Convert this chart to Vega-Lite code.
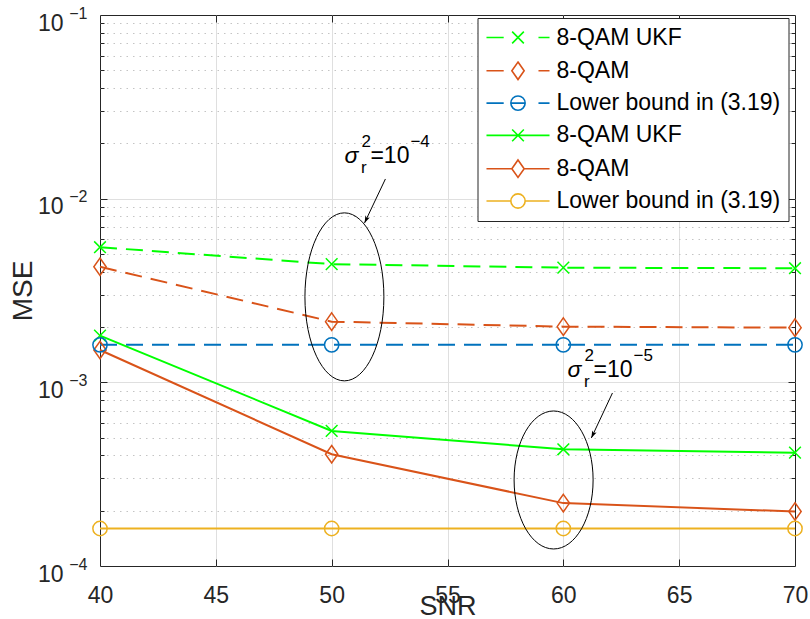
{
  "$schema": "https://vega.github.io/schema/vega-lite/v6.json",
  "width": 695,
  "height": 551,
  "autosize": "none",
  "padding": {"left": 100, "top": 15, "right": 15, "bottom": 53},
  "background": "#ffffff",
  "config": {
    "view": {"stroke": "#262626", "strokeWidth": 1},
    "font": "Liberation Sans",
    "axis": {"domain": false, "labelFont": "Liberation Sans", "titleFont": "Liberation Sans", "labelColor": "#262626", "titleColor": "#262626", "tickColor": "#262626", "titleFontWeight": "normal", "labelOverlap": false, "labelFlush": false, "labelBound": false},
    "legend": {
      "orient": "none", "legendX": 377.5, "legendY": 3, "title": null,
      "symbolSize": 169, "symbolOffset": 21, "labelOffset": 27, "symbolStrokeWidth": 1.6, "symbolOpacity": 1,
      "labelFontSize": 23, "labelFont": "Liberation Sans", "labelColor": "#000000", "labelLimit": 400,
      "rowPadding": 8.3, "padding": 8, "fillColor": "#ffffff", "strokeColor": "#262626"
    }
  },
  "datasets": {
    "main": [
      {"snr": 40, "mse": 0.00544, "s": "d_ukf"},
      {"snr": 50, "mse": 0.00440, "s": "d_ukf"},
      {"snr": 60, "mse": 0.00421, "s": "d_ukf"},
      {"snr": 70, "mse": 0.00418, "s": "d_ukf"},
      {"snr": 40, "mse": 0.00426, "s": "d_qam"},
      {"snr": 50, "mse": 0.00214, "s": "d_qam"},
      {"snr": 60, "mse": 0.00201, "s": "d_qam"},
      {"snr": 70, "mse": 0.001985, "s": "d_qam"},
      {"snr": 40, "mse": 0.0016, "s": "d_lb"},
      {"snr": 50, "mse": 0.0016, "s": "d_lb"},
      {"snr": 60, "mse": 0.0016, "s": "d_lb"},
      {"snr": 70, "mse": 0.0016, "s": "d_lb"},
      {"snr": 40, "mse": 0.001795, "s": "s_ukf"},
      {"snr": 50, "mse": 0.000544, "s": "s_ukf"},
      {"snr": 60, "mse": 0.000432, "s": "s_ukf"},
      {"snr": 70, "mse": 0.000414, "s": "s_ukf"},
      {"snr": 40, "mse": 0.0015, "s": "s_qam"},
      {"snr": 50, "mse": 0.000406, "s": "s_qam"},
      {"snr": 60, "mse": 0.00022, "s": "s_qam"},
      {"snr": 70, "mse": 0.000198, "s": "s_qam"},
      {"snr": 40, "mse": 0.00016, "s": "s_lb"},
      {"snr": 50, "mse": 0.00016, "s": "s_lb"},
      {"snr": 60, "mse": 0.00016, "s": "s_lb"},
      {"snr": 70, "mse": 0.00016, "s": "s_lb"}
    ],
    "ell": [
      {"snr": 50.55, "mse": 0.00292, "id": "a"},
      {"snr": 59.58, "mse": 0.000294, "id": "b"}
    ],
    "arr": [
      {"snr": 52.32, "mse": 0.0128, "snr2": 51.42, "mse2": 0.00738},
      {"snr": 62.12, "mse": 0.000875, "snr2": 61.21, "mse2": 0.000498}
    ],
    "ann": [
      {"snr": 50.55, "mse": 0.01564, "sym": "σ", "sup": "2", "sub": "r", "base": "=10", "exp": "−4"},
      {"snr": 60.18, "mse": 0.00107, "sym": "σ", "sup": "2", "sub": "r", "base": "=10", "exp": "−5"}
    ]
  },
  "resolve": {"axis": {"x": "independent", "y": "independent"}, "scale": {"x": "shared", "y": "shared"}},
  "layer": [
    {
      "data": {"name": "main"},
      "transform": [{"filter": "datum.s === 'd_ukf'"}],
      "mark": {"type": "line", "strokeWidth": 2, "strokeDash": [17, 9], "color": "#00ff00"},
      "encoding": {
        "x": {"field": "snr", "type": "quantitative", "scale": {"domain": [40, 70], "nice": false, "zero": false},
          "axis": {"orient": "bottom", "values": [40, 45, 50, 55, 60, 65, 70], "grid": false, "ticks": false, "labelFontSize": 23, "labelPadding": 36, "labelBaseline": "alphabetic", "title": "SNR", "titleFontSize": 27, "titleY": 48, "titleBaseline": "alphabetic"}},
        "y": {"field": "mse", "type": "quantitative", "scale": {"type": "log", "domain": [0.0001, 0.1], "nice": false},
          "axis": {"orient": "left", "values": [0.0001, 0.001, 0.01, 0.1], "labelExpr": "'10'", "grid": false, "ticks": false, "labelFontSize": 23, "labelPadding": 37, "labelBaseline": "alphabetic", "labelOffset": 15, "title": "MSE", "titleFontSize": 28, "titleX": -68.5, "titleBaseline": "alphabetic"}}
      }
    },
    {
      "data": {"name": "main"},
      "transform": [{"filter": "datum.s === 'd_qam'"}],
      "mark": {"type": "line", "strokeWidth": 2, "strokeDash": [17, 9], "color": "#d95319"},
      "encoding": {
        "x": {"field": "snr", "type": "quantitative",
          "axis": {"orient": "bottom", "values": [45, 50, 55, 60, 65], "grid": true, "gridColor": "#dfdfdf", "gridWidth": 1, "ticks": true, "tickSize": -7, "labels": false, "title": null}},
        "y": {"field": "mse", "type": "quantitative",
          "axis": {"orient": "left", "values": [0.0001, 0.001, 0.01, 0.1], "labelExpr": "'−' + round(-log(datum.value)/LN10)", "grid": false, "ticks": false, "labelFontSize": 16, "labelPadding": 13, "labelBaseline": "alphabetic", "labelOffset": 3, "title": null}}
      }
    },
    {
      "data": {"name": "main"},
      "transform": [{"filter": "datum.s === 'd_lb'"}],
      "mark": {"type": "line", "strokeWidth": 2, "strokeDash": [17, 9], "color": "#0072bd"},
      "encoding": {
        "x": {"field": "snr", "type": "quantitative",
          "axis": {"orient": "top", "values": [45, 50, 55, 60, 65], "grid": false, "ticks": true, "tickSize": -7, "labels": false, "title": null}},
        "y": {"field": "mse", "type": "quantitative",
          "axis": {"orient": "left", "values": [0.001, 0.01], "grid": true, "gridColor": "#dfdfdf", "ticks": true, "tickSize": -7, "labels": false, "title": null}}
      }
    },
    {
      "data": {"name": "main"},
      "transform": [{"filter": "datum.s === 's_ukf'"}],
      "mark": {"type": "line", "strokeWidth": 2, "color": "#00ff00"},
      "encoding": {
        "x": {"field": "snr", "type": "quantitative", "axis": null},
        "y": {"field": "mse", "type": "quantitative",
          "axis": {"orient": "left", "values": [0.0002, 0.0003, 0.0004, 0.0005, 0.0006, 0.0007, 0.0008, 0.0009, 0.002, 0.003, 0.004, 0.005, 0.006, 0.007, 0.008, 0.009, 0.02, 0.03, 0.04, 0.05, 0.06, 0.07, 0.08, 0.09], "grid": true, "gridColor": "#c4c4c4", "gridDash": [1.5, 5], "ticks": true, "tickSize": -4, "labels": false, "title": null}}
      }
    },
    {
      "data": {"name": "main"},
      "transform": [{"filter": "datum.s === 's_qam'"}],
      "mark": {"type": "line", "strokeWidth": 2, "color": "#d95319"},
      "encoding": {
        "x": {"field": "snr", "type": "quantitative", "axis": null},
        "y": {"field": "mse", "type": "quantitative",
          "axis": {"orient": "right", "values": [0.001, 0.01], "grid": false, "ticks": true, "tickSize": -7, "labels": false, "title": null}}
      }
    },
    {
      "data": {"name": "main"},
      "transform": [{"filter": "datum.s === 's_lb'"}],
      "mark": {"type": "line", "strokeWidth": 2, "color": "#edb120"},
      "encoding": {
        "x": {"field": "snr", "type": "quantitative", "axis": null},
        "y": {"field": "mse", "type": "quantitative",
          "axis": {"orient": "right", "values": [0.0002, 0.0003, 0.0004, 0.0005, 0.0006, 0.0007, 0.0008, 0.0009, 0.002, 0.003, 0.004, 0.005, 0.006, 0.007, 0.008, 0.009, 0.02, 0.03, 0.04, 0.05, 0.06, 0.07, 0.08, 0.09], "grid": false, "ticks": true, "tickSize": -4, "labels": false, "title": null}}
      }
    },
    {
      "data": {"name": "main"},
      "transform": [{"filter": "datum.s === 'd_ukf' || datum.s === 's_ukf'"}],
      "mark": {"type": "point", "filled": false, "strokeWidth": 1.5, "size": 169, "opacity": 1, "color": "#00ff00", "shape": "M-0.9,-0.9L0.9,0.9M-0.9,0.9L0.9,-0.9"},
      "encoding": {
        "x": {"field": "snr", "type": "quantitative", "axis": null},
        "y": {"field": "mse", "type": "quantitative", "axis": null}
      }
    },
    {
      "data": {"name": "main"},
      "transform": [{"filter": "datum.s === 'd_qam' || datum.s === 's_qam'"}],
      "mark": {"type": "point", "filled": false, "strokeWidth": 1.5, "size": 169, "opacity": 1, "color": "#d95319", "shape": "M0,-1.35L0.95,0L0,1.35L-0.95,0Z"},
      "encoding": {
        "x": {"field": "snr", "type": "quantitative", "axis": null},
        "y": {"field": "mse", "type": "quantitative", "axis": null}
      }
    },
    {
      "data": {"name": "main"},
      "transform": [{"filter": "datum.s === 'd_lb'"}],
      "mark": {"type": "point", "filled": false, "strokeWidth": 1.5, "size": 169, "opacity": 1, "color": "#0072bd", "shape": "M-1.1,0A1.1,1.1 0 1,0 1.1,0A1.1,1.1 0 1,0 -1.1,0Z"},
      "encoding": {
        "x": {"field": "snr", "type": "quantitative", "axis": null},
        "y": {"field": "mse", "type": "quantitative", "axis": null}
      }
    },
    {
      "data": {"name": "main"},
      "transform": [{"filter": "datum.s === 's_lb'"}],
      "mark": {"type": "point", "filled": false, "strokeWidth": 1.5, "size": 169, "opacity": 1, "color": "#edb120", "shape": "M-1.1,0A1.1,1.1 0 1,0 1.1,0A1.1,1.1 0 1,0 -1.1,0Z"},
      "encoding": {
        "x": {"field": "snr", "type": "quantitative", "axis": null},
        "y": {"field": "mse", "type": "quantitative", "axis": null}
      }
    },
    {
      "data": {"name": "main"},
      "mark": {"type": "point", "filled": false, "strokeWidth": 1.6, "size": 169, "opacity": 0},
      "encoding": {
        "x": {"field": "snr", "type": "quantitative", "axis": null},
        "y": {"field": "mse", "type": "quantitative", "axis": null},
        "color": {"field": "s", "type": "nominal",
          "scale": {"domain": ["d_ukf", "d_qam", "d_lb", "s_ukf", "s_qam", "s_lb"], "range": ["#00ff00", "#d95319", "#0072bd", "#00ff00", "#d95319", "#edb120"]},
          "legend": {"labelExpr": "(datum.value === 'd_ukf' || datum.value === 's_ukf') ? '8-QAM UKF' : ((datum.value === 'd_qam' || datum.value === 's_qam') ? '8-QAM' : 'Lower bound in (3.19)')"}},
        "shape": {"field": "s", "type": "nominal",
          "scale": {"domain": ["d_ukf", "d_qam", "d_lb", "s_ukf", "s_qam", "s_lb"],
            "range": [
              "M-4.85,0L-2.2,0M3.15,0L4.85,0M-0.9,-0.9L0.9,0.9M-0.9,0.9L0.9,-0.9",
              "M-4.85,0L-2.2,0M3.15,0L4.85,0M0,-1.35L0.95,0L0,1.35L-0.95,0Z",
              "M-4.85,0L-2.2,0M3.15,0L4.85,0M-1.05,0L1.05,0M-1.1,0A1.1,1.1 0 1,0 1.1,0A1.1,1.1 0 1,0 -1.1,0Z",
              "M-4.85,0L4.85,0M-0.9,-0.9L0.9,0.9M-0.9,0.9L0.9,-0.9",
              "M-4.85,0L-0.95,0M0.95,0L4.85,0M0,-1.35L0.95,0L0,1.35L-0.95,0Z",
              "M-4.85,0L-1.1,0M1.1,0L4.85,0M-1.1,0A1.1,1.1 0 1,0 1.1,0A1.1,1.1 0 1,0 -1.1,0Z"
            ]},
          "legend": {"labelExpr": "(datum.value === 'd_ukf' || datum.value === 's_ukf') ? '8-QAM UKF' : ((datum.value === 'd_qam' || datum.value === 's_qam') ? '8-QAM' : 'Lower bound in (3.19)')"}}
      }
    },
    {
      "data": {"name": "ell"},
      "transform": [{"filter": "datum.id === 'a'"}],
      "mark": {"type": "point", "filled": false, "color": "#000000", "strokeWidth": 1, "size": 28224, "shape": "M0,-1A0.47,1 0 1,1 0,1A0.47,1 0 1,1 0,-1Z", "opacity": 1},
      "encoding": {
        "x": {"field": "snr", "type": "quantitative", "axis": null},
        "y": {"field": "mse", "type": "quantitative", "axis": null}
      }
    },
    {
      "data": {"name": "ell"},
      "transform": [{"filter": "datum.id === 'b'"}],
      "mark": {"type": "point", "filled": false, "color": "#000000", "strokeWidth": 1, "size": 19044, "shape": "M0,-1A0.5725,1 0 1,1 0,1A0.5725,1 0 1,1 0,-1Z", "opacity": 1},
      "encoding": {
        "x": {"field": "snr", "type": "quantitative", "axis": null},
        "y": {"field": "mse", "type": "quantitative", "axis": null}
      }
    },
    {
      "data": {"name": "arr"},
      "mark": {"type": "rule", "color": "#000000", "strokeWidth": 1},
      "encoding": {
        "x": {"field": "snr", "type": "quantitative", "axis": null},
        "y": {"field": "mse", "type": "quantitative", "axis": null},
        "x2": {"field": "snr2"},
        "y2": {"field": "mse2"}
      }
    },
    {
      "data": {"name": "arr"},
      "mark": {"type": "point", "filled": true, "color": "#000000", "size": 36, "angle": 205, "shape": "M0,0L0.8,2.4L0,1.8L-0.8,2.4Z", "opacity": 1},
      "encoding": {
        "x": {"field": "snr2", "type": "quantitative", "axis": null},
        "y": {"field": "mse2", "type": "quantitative", "axis": null}
      }
    },
    {
      "data": {"name": "ann"},
      "mark": {"type": "text", "fontSize": 23, "fontStyle": "italic", "font": "Liberation Sans", "align": "left", "baseline": "alphabetic", "color": "#000000"},
      "encoding": {
        "x": {"field": "snr", "type": "quantitative", "axis": null},
        "y": {"field": "mse", "type": "quantitative", "axis": null},
        "text": {"field": "sym"}
      }
    },
    {
      "data": {"name": "ann"},
      "mark": {"type": "text", "fontSize": 17, "font": "Liberation Sans", "align": "left", "baseline": "alphabetic", "dx": 17, "dy": -16, "color": "#000000"},
      "encoding": {
        "x": {"field": "snr", "type": "quantitative", "axis": null},
        "y": {"field": "mse", "type": "quantitative", "axis": null},
        "text": {"field": "sup"}
      }
    },
    {
      "data": {"name": "ann"},
      "mark": {"type": "text", "fontSize": 17, "font": "Liberation Sans", "align": "left", "baseline": "alphabetic", "dx": 16.5, "dy": 10, "color": "#000000"},
      "encoding": {
        "x": {"field": "snr", "type": "quantitative", "axis": null},
        "y": {"field": "mse", "type": "quantitative", "axis": null},
        "text": {"field": "sub"}
      }
    },
    {
      "data": {"name": "ann"},
      "mark": {"type": "text", "fontSize": 23, "font": "Liberation Sans", "align": "left", "baseline": "alphabetic", "dx": 26, "color": "#000000"},
      "encoding": {
        "x": {"field": "snr", "type": "quantitative", "axis": null},
        "y": {"field": "mse", "type": "quantitative", "axis": null},
        "text": {"field": "base"}
      }
    },
    {
      "data": {"name": "ann"},
      "mark": {"type": "text", "fontSize": 17, "font": "Liberation Sans", "align": "left", "baseline": "alphabetic", "dx": 66, "dy": -16, "color": "#000000"},
      "encoding": {
        "x": {"field": "snr", "type": "quantitative", "axis": null},
        "y": {"field": "mse", "type": "quantitative", "axis": null},
        "text": {"field": "exp"}
      }
    }
  ]
}
